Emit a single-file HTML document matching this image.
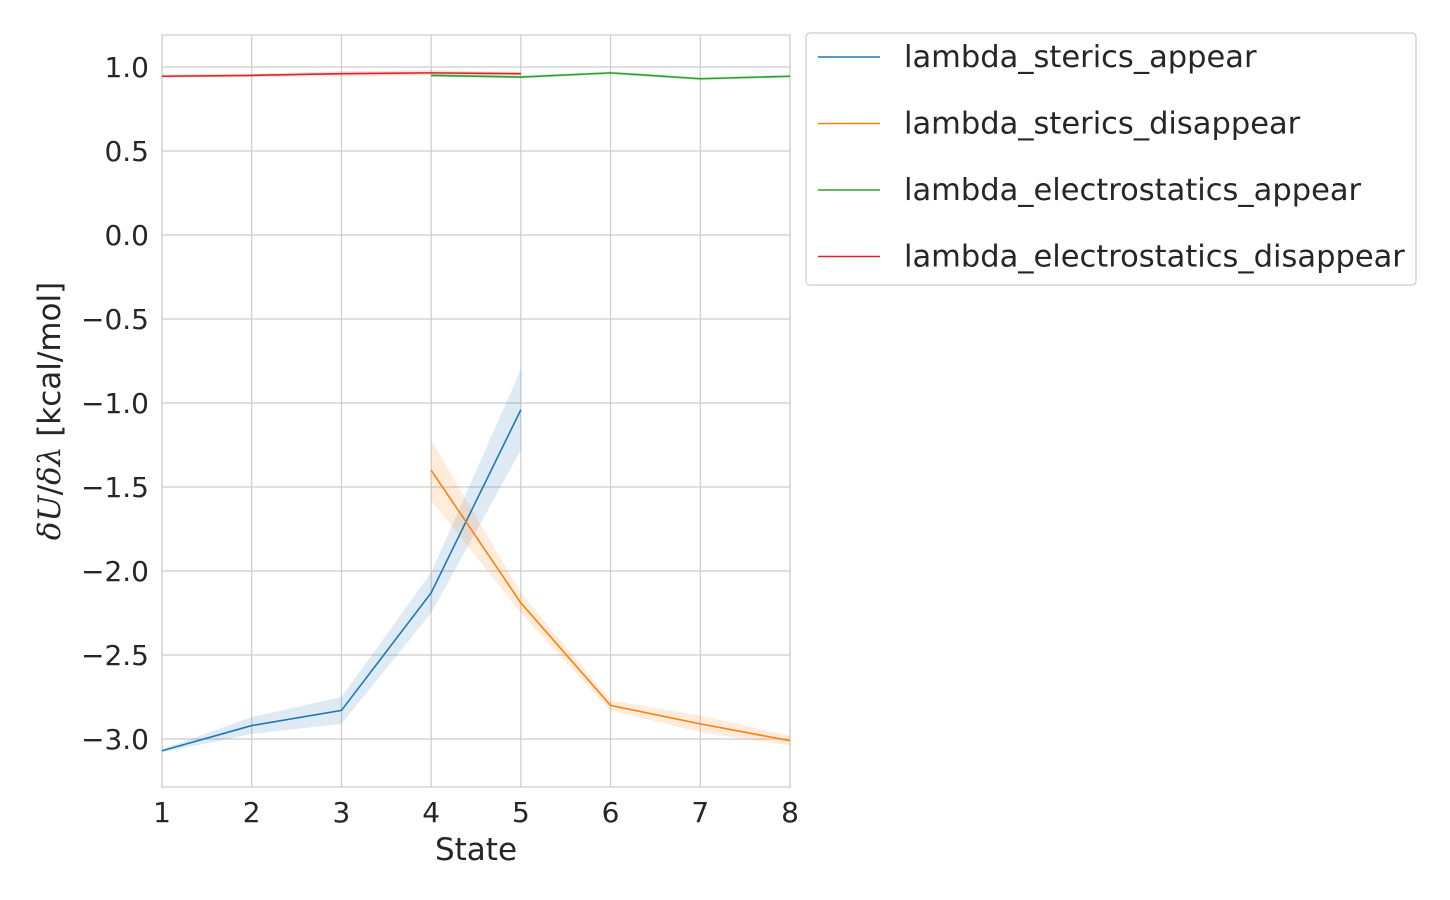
<!DOCTYPE html>
<html><head><meta charset="utf-8"><style>
body{margin:0;background:#fff;}
svg{display:block;font-family:"DejaVu Sans","Liberation Sans",sans-serif;}
</style></head><body>
<svg id="chart" width="1450" height="900">
<rect x="162" y="35" width="628" height="752" fill="#fff" stroke="#ccc" stroke-width="1.2"/>
<g id="grid"></g><g id="bands"></g><g id="lines"></g><g id="ticks" fill="#262626" font-size="28"></g>
<text x="476" y="860" text-anchor="middle" font-size="31" fill="#262626">State</text>
<text transform="translate(60,411) rotate(-90)" text-anchor="middle" font-size="31" fill="#262626"><tspan font-family="DejaVu Serif, serif" font-style="italic">δU</tspan>/<tspan font-family="DejaVu Serif, serif" font-style="italic">δλ</tspan> [kcal/mol]</text>
<g>
<rect x="806" y="33" width="610" height="252" rx="4" fill="#fff" stroke="#ccc" stroke-width="1.2"/>
<g id="legend-items" font-size="30.5" fill="#262626"></g>
</g>
</svg>
<script>
const seriesNames=["lambda_sterics_appear","lambda_sterics_disappear","lambda_electrostatics_appear","lambda_electrostatics_disappear"];
const colors=["#1f77b4","#ff7f0e","#2ca02c","#d62728"];
const stericsAppearX=[1,2,3,4,5];
const stericsAppearY=[-3.07,-2.92,-2.83,-2.13,-1.04];
const stericsAppearErr=[0.01,0.05,0.08,0.12,0.24];
const stericsDisX=[4,5,6,7,8];
const stericsDisY=[-1.40,-2.19,-2.80,-2.91,-3.01];
const stericsDisErr=[0.18,0.06,0.03,0.05,0.03];
const elecAppearX=[4,5,6,7,8];
const elecAppearY=[0.95,0.94,0.965,0.93,0.945];
const elecAppearErr=[0.01,0.01,0.01,0.01,0.01];
const elecDisX=[1,2,3,4,5];
const elecDisY=[0.945,0.95,0.96,0.965,0.96];
const elecDisErr=[0.01,0.01,0.015,0.015,0.01];
const xTicks=[1,2,3,4,5,6,7,8];
const yTicks=[1.0,0.5,0.0,-0.5,-1.0,-1.5,-2.0,-2.5,-3.0];
const NS="http://www.w3.org/2000/svg";
const X=v=>162+(v-1)*628/7;
const Y=v=>67+(1-v)*168;
function mk(t,a,p){const e=document.createElementNS(NS,t);for(const k in a)e.setAttribute(k,a[k]);p.appendChild(e);return e;}
const grid=document.getElementById('grid'),ticks=document.getElementById('ticks');
xTicks.forEach(t=>{
 const l=mk('line',{x1:X(t),x2:X(t),y1:35,y2:787,stroke:'#ccc','stroke-width':1.2},grid);
 
 
 const tx=mk('text',{x:X(t),y:822,'text-anchor':'middle'},ticks);tx.textContent=t;
 
 
});
yTicks.forEach(t=>{
 const l=mk('line',{x1:162,x2:790,y1:Y(t),y2:Y(t),stroke:'#ccc','stroke-width':1.2},grid);
 
 
 const tx=mk('text',{x:149,y:Y(t)+10,'text-anchor':'end'},ticks);tx.textContent=(t<0?'−':'')+Math.abs(t).toFixed(1);
 
 
});
const series=[[stericsAppearX,stericsAppearY,stericsAppearErr],[stericsDisX,stericsDisY,stericsDisErr],[elecAppearX,elecAppearY,elecAppearErr],[elecDisX,elecDisY,elecDisErr]];
const bands=document.getElementById('bands'),lines=document.getElementById('lines');
series.forEach((s,i)=>{
 const [xs,ys,es]=s;
 const up=xs.map((x,j)=>X(x)+','+Y(ys[j]+es[j]));
 const dn=xs.map((x,j)=>X(x)+','+Y(ys[j]-es[j])).reverse();
 const b=mk('polygon',{points:up.concat(dn).join(' '),fill:colors[i],'fill-opacity':0.15},bands);
 
 
 const p=mk('polyline',{points:xs.map((x,j)=>X(x)+','+Y(ys[j])).join(' '),fill:'none',stroke:colors[i],'stroke-width':1.6},lines);
 
 
});
const li=document.getElementById('legend-items');
seriesNames.forEach((n,i)=>{
 const y=57+i*66.5;
 const g=mk('g',{},li);
 
 
 mk('line',{x1:818,x2:880,y1:y,y2:y,stroke:colors[i],'stroke-width':1.6},g);
 const t=mk('text',{x:904,y:y+10},g);t.textContent=n;
});
</script>
</body></html>
